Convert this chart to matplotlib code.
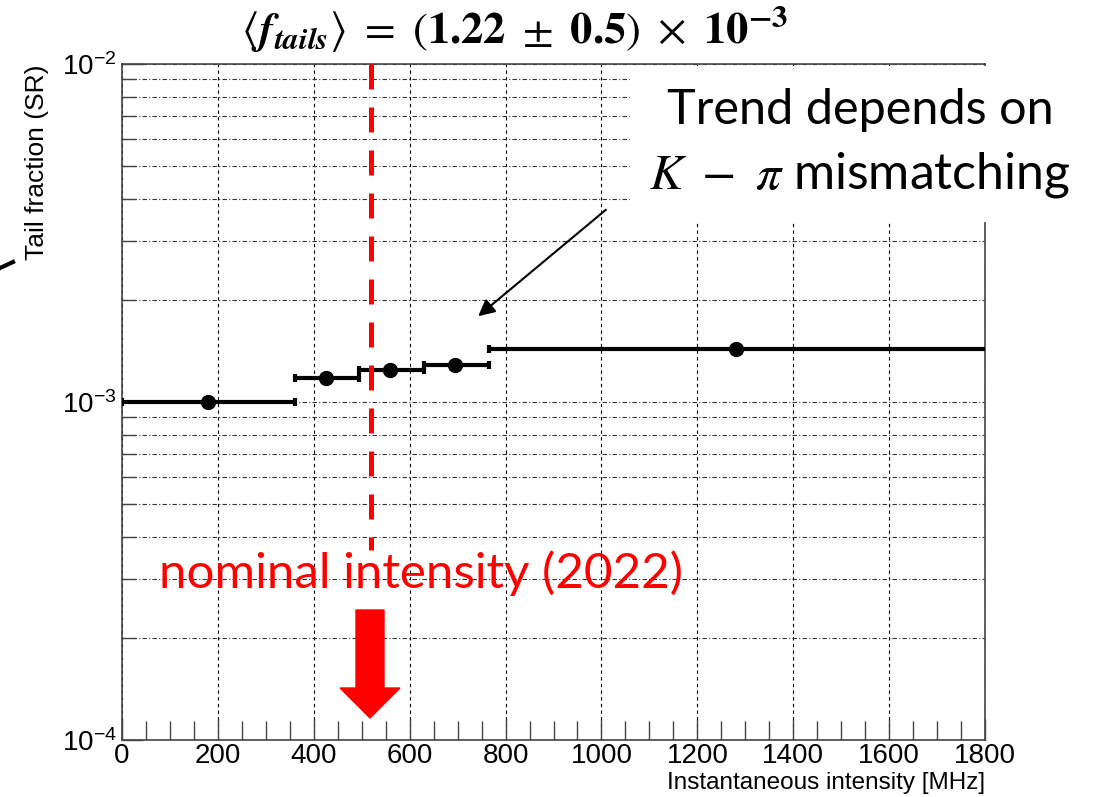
import numpy as np
import matplotlib
matplotlib.use('Agg')
import matplotlib.pyplot as plt
from matplotlib.patches import Rectangle, FancyArrow
from matplotlib.lines import Line2D
from matplotlib.ticker import LogLocator, MultipleLocator, NullFormatter

# Tail fraction vs instantaneous intensity
intensity = [180, 425, 560, 695, 1280]
bin_low = [0, 360, 495, 630, 765]
bin_high = [360, 495, 630, 765, 1900]
tail_fraction = [1.0e-3, 1.18e-3, 1.245e-3, 1.29e-3, 1.435e-3]
nominal_intensity = 520

title_txt = (r'$\langle \mathbfit{f}_{\mathbfit{tails}} \rangle\ =\ '
             r'(\mathbf{1.22}\ \pm\ \mathbf{0.5})\ \times\ \mathbf{10^{-3}}$')

plt.rcParams['font.family'] = ['Liberation Sans', 'DejaVu Sans']

fig = plt.figure(figsize=(11.02, 7.97), dpi=100)
ax = fig.add_axes([122 / 1102, 57 / 797, 863 / 1102, 676 / 797])

xerr = [np.array(intensity) - np.array(bin_low), np.array(bin_high) - np.array(intensity)]
ax.errorbar(intensity, tail_fraction, xerr=xerr, fmt='o', color='black', ms=10,
            elinewidth=3, capsize=3, capthick=3, zorder=4)

ax.set_yscale('log')
ax.set_xlim(0, 1800)
ax.set_ylim(1e-4, 1e-2)

ax.xaxis.set_major_locator(MultipleLocator(200))
ax.xaxis.set_minor_locator(MultipleLocator(50))
ax.yaxis.set_major_locator(LogLocator(base=10, numticks=5))
ax.yaxis.set_minor_locator(LogLocator(base=10, subs=np.arange(2, 10), numticks=20))
ax.yaxis.set_minor_formatter(NullFormatter())

ax.tick_params(axis='both', which='both', direction='in', color='#444444', width=1)
ax.tick_params(axis='x', which='major', length=15, labelsize=20, pad=2)
ax.tick_params(axis='x', which='minor', length=14)
ax.tick_params(axis='y', which='major', length=15, labelsize=20, pad=4)
ax.tick_params(axis='y', which='minor', length=10)

ax.grid(True, axis='x', which='major', color='black', lw=0.8, linestyle=(0, (3, 3)))
ax.grid(True, axis='y', which='both', color='#333333', lw=0.8, linestyle=(0, (4, 2, 1, 2)))

for s in ax.spines.values():
    s.set_color('#444444')
    s.set_linewidth(1.2)

# nominal intensity line
ax.plot([nominal_intensity, nominal_intensity], [1e-2, 3.65e-4], color='red', lw=3.6,
        dashes=(5, 3.6), zorder=5, clip_on=False)

# white box covering top-right
box = Rectangle((6.30, 5.75), 4.72, 1.56, transform=fig.dpi_scale_trans,
                facecolor='white', edgecolor='none', zorder=10, clip_on=False)
ax.add_patch(box)

ax.annotate('', xy=(476, 797 - 318), xycoords='figure pixels',
            xytext=(608, 797 - 208), textcoords='figure pixels',
            arrowprops=dict(arrowstyle='-|>', lw=1.5, color='black', mutation_scale=25),
            zorder=11, annotation_clip=False)

fig.text(37 / 1102, 1 - 65 / 797, 'Tail fraction (SR)', rotation=90, ha='center',
         va='top', fontsize=19)
fig.text(985 / 1102, 1 - 783 / 797, 'Instantaneous intensity [MHz]', ha='right',
         va='center', fontsize=17.5)

fig.text(515 / 1102, 1 - 30 / 797, title_txt, ha='center', va='center', fontsize=32,
         math_fontfamily='stix')

fig.text(860 / 1102, 1 - 110 / 797, 'Trend depends on', ha='center', va='center',
         fontsize=35, family='Lato', zorder=12)
fig.text(860 / 1102, 1 - 175 / 797, r'$K\ -\ \pi$ mismatching', ha='center', va='center',
         fontsize=36, family='Lato', math_fontfamily='stix', zorder=12)

fig.text(421 / 1102, 1 - 573 / 797, 'nominal intensity (2022)', ha='center', va='center',
         fontsize=35.5, family='Lato', color='red')

# red arrow pointing down
fig.add_artist(FancyArrow(3.70, (797 - 610) / 100, 0, -0.78, width=0.28, head_width=0.60,
                          head_length=0.30, length_includes_head=False,
                          transform=fig.dpi_scale_trans, color='red', zorder=6))

# stray stroke on left edge
fig.add_artist(Line2D([0, 13], [797 - 268, 797 - 262], transform=None, color='black', lw=3))

fig.savefig('out.png', dpi=100)
